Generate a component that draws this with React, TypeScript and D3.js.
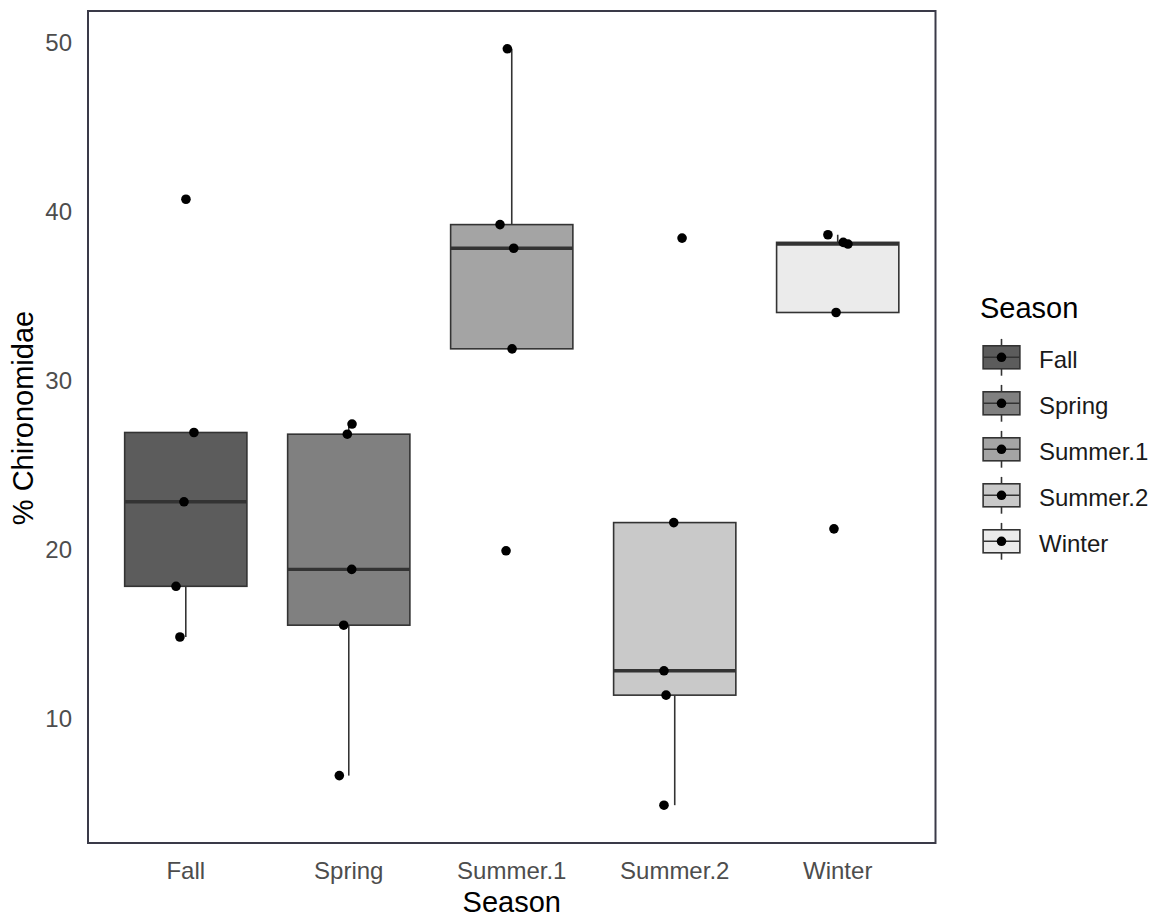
import React from "react";
import * as d3 from "d3";

const categories = ["Fall", "Spring", "Summer.1", "Summer.2", "Winter"];

// Observed % Chironomidae per season
const fallValues = [40.7, 26.9, 22.8, 17.8, 14.8];
const springValues = [27.4, 26.8, 18.8, 15.5, 6.6];
const summer1Values = [49.6, 39.2, 37.8, 31.85, 19.9];
const summer2Values = [21.57, 12.8, 11.36, 4.85, 38.4];
const winterValues = [38.6, 38.15, 38.05, 34.0, 21.2];

// horizontal jitter offsets (fraction of category step)
const fallJitter = [0.001, 0.05, -0.011, -0.06, -0.036];
const springJitter = [0.02, -0.009, 0.018, -0.031, -0.058];
const summer1Jitter = [-0.027, -0.072, 0.012, 0.002, -0.035];
const summer2Jitter = [-0.006, -0.066, -0.053, -0.066, 0.045];
const winterJitter = [-0.06, 0.034, 0.063, -0.01, -0.023];

const fillColors = ["#5c5c5c", "#808080", "#a4a4a4", "#c9c9c9", "#ebebeb"];
const yTicks = [10, 20, 30, 40, 50];

const seriesValues = [fallValues, springValues, summer1Values, summer2Values, winterValues];
const seriesJitter = [fallJitter, springJitter, summer1Jitter, summer2Jitter, winterJitter];

const FONT = "'Liberation Sans', Arial, Helvetica, sans-serif";

const W = 1166;
const H = 917;
const panel = { left: 88, right: 935.5, top: 11, bottom: 843 };

function boxStats(vals: number[]) {
  const s = [...vals].sort((a, b) => a - b);
  const q1 = d3.quantile(s, 0.25)!;
  const med = d3.quantile(s, 0.5)!;
  const q3 = d3.quantile(s, 0.75)!;
  const iqr = q3 - q1;
  const lo = d3.min(s.filter((v) => v >= q1 - 1.5 * iqr))!;
  const hi = d3.max(s.filter((v) => v <= q3 + 1.5 * iqr))!;
  return { q1, med, q3, lo, hi };
}

export default function App() {
  const all = seriesValues.flat();
  const [mn, mx] = d3.extent(all) as [number, number];
  const pad = (mx - mn) * 0.05;
  const y = d3.scaleLinear().domain([mn - pad, mx + pad]).range([panel.bottom, panel.top]);

  const n = categories.length;
  const xLin = d3.scaleLinear().domain([0.4, n + 0.6]).range([panel.left, panel.right]);
  const step = xLin(2) - xLin(1);
  const boxW = step * 0.75;

  const outline = "#333333";

  // legend geometry
  const legTop = 334.3;
  const keyH = 46;
  const keyW = 49;
  const keyLeft = 977;

  return (
    <svg
      width={W}
      height={H}
      style={{ position: "absolute", left: 0, top: 0, display: "block", background: "#fff" }}
      fontFamily={FONT}
    >
      <rect x={0} y={0} width={W} height={H} fill="#ffffff" />

      {/* boxes */}
      {categories.map((c, i) => {
        const st = boxStats(seriesValues[i]);
        const cx = xLin(i + 1);
        return (
          <g key={c}>
            <line x1={cx} x2={cx} y1={y(st.q3)} y2={y(st.hi)} stroke={outline} strokeWidth={1.6} />
            <line x1={cx} x2={cx} y1={y(st.q1)} y2={y(st.lo)} stroke={outline} strokeWidth={1.6} />
            <rect
              x={cx - boxW / 2}
              y={y(st.q3)}
              width={boxW}
              height={y(st.q1) - y(st.q3)}
              fill={fillColors[i]}
              stroke={outline}
              strokeWidth={1.6}
            />
            <line
              x1={cx - boxW / 2}
              x2={cx + boxW / 2}
              y1={y(st.med)}
              y2={y(st.med)}
              stroke={outline}
              strokeWidth={3.4}
            />
          </g>
        );
      })}

      {/* jittered points */}
      {categories.map((c, i) =>
        seriesValues[i].map((v, j) => (
          <circle
            key={c + j}
            cx={xLin(i + 1 + seriesJitter[i][j])}
            cy={y(v)}
            r={4.8}
            fill="#000"
          />
        ))
      )}

      {/* panel border */}
      <rect
        x={panel.left}
        y={panel.top}
        width={panel.right - panel.left}
        height={panel.bottom - panel.top}
        fill="none"
        stroke="#3a3a48"
        strokeWidth={2}
      />

      {/* y tick labels */}
      {yTicks.map((t) => (
        <text
          key={t}
          x={72}
          y={y(t) + 8.6}
          textAnchor="end"
          fontSize={24}
          fill="#4d4d4d"
        >
          {t}
        </text>
      ))}

      {/* x tick labels */}
      {categories.map((c, i) => (
        <text key={c} x={xLin(i + 1)} y={879} textAnchor="middle" fontSize={24} fill="#4d4d4d">
          {c}
        </text>
      ))}

      {/* axis titles */}
      <text x={(panel.left + panel.right) / 2} y={912} textAnchor="middle" fontSize={29} fill="#000">
        Season
      </text>
      <text
        transform={`translate(33, 418) rotate(-90)`}
        textAnchor="middle"
        fontSize={29}
        fill="#000"
      >
        % Chironomidae
      </text>

      {/* legend */}
      <text x={980} y={318} fontSize={29} fill="#000">
        Season
      </text>
      {categories.map((c, i) => {
        const top = legTop + i * keyH;
        const cy = top + keyH / 2;
        const cx = keyLeft + keyW / 2;
        const bx0 = keyLeft + keyW * 0.125;
        const bx1 = keyLeft + keyW * 0.875;
        return (
          <g key={c}>
            <line x1={cx} x2={cx} y1={top + keyH * 0.1} y2={top + keyH * 0.25} stroke={outline} strokeWidth={1.6} />
            <line x1={cx} x2={cx} y1={top + keyH * 0.75} y2={top + keyH * 0.9} stroke={outline} strokeWidth={1.6} />
            <rect
              x={bx0}
              y={top + keyH * 0.25}
              width={bx1 - bx0}
              height={keyH * 0.5}
              fill={fillColors[i]}
              stroke={outline}
              strokeWidth={1.6}
            />
            <line x1={bx0} x2={bx1} y1={cy} y2={cy} stroke={outline} strokeWidth={1.6} />
            <circle cx={cx} cy={cy} r={4.8} fill="#000" />
            <text x={1039} y={cy + 11} fontSize={24} fill="#1a1a1a">
              {c}
            </text>
          </g>
        );
      })}
    </svg>
  );
}
